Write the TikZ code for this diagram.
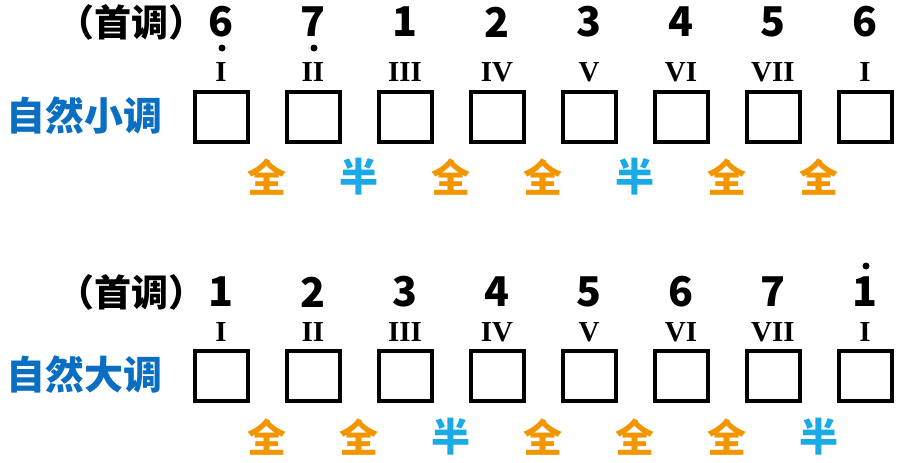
\documentclass[tikz,border=0pt]{standalone}
\usepackage{fontspec}
\newfontfamily\cjk{Noto Sans CJK SC}
\newfontfamily\rom{Liberation Serif}
\definecolor{titleblue}{HTML}{0A6FC2}
\definecolor{wholeor}{HTML}{F29600}
\definecolor{halfbl}{HTML}{1AAAE8}
\tikzset{
  keybox/.style={draw=black, line width=4pt, minimum width=53pt, minimum height=50pt, inner sep=0pt},
  degnum/.style={font=\cjk\bfseries\fontsize{41}{41}\selectfont, inner sep=0pt},
  romnum/.style={font=\rom\bfseries\fontsize{29}{29}\selectfont, inner sep=0pt},
  wlabel/.style={font=\cjk\bfseries\fontsize{39}{39}\selectfont, text=wholeor, inner sep=0pt},
  hlabel/.style={font=\cjk\bfseries\fontsize{39}{39}\selectfont, text=halfbl, inner sep=0pt},
  keyname/.style={font=\cjk\bfseries\fontsize{39}{39}\selectfont, text=titleblue, inner sep=0pt, anchor=west},
  tonic/.style={font=\cjk\bfseries\fontsize{37}{37}\selectfont, inner sep=0pt, anchor=east},
  dotmark/.style={fill=black, circle, inner sep=0pt, minimum size=7pt}
}
\begin{document}
\begin{tikzpicture}[x=1pt,y=-1pt]
\useasboundingbox[fill=white] (0,0) rectangle (898,463);
% ---------- minor ----------
\node[tonic] (tA) at (206,22) {（首调）};
\node[keyname] (kA) at (6,116) {自然小调};
\foreach \i/\d/\r in {1/6/I,2/7/II,3/1/III,4/2/IV,5/3/V,6/4/VI,7/5/VII,8/6/I}{
  \pgfmathsetmacro{\xx}{221+92*(\i-1)}
  \node[keybox] (mb\i) at (\xx,117) {};
  \node[romnum] (mr\i) at (\xx,72) {\r};
  \node[degnum] (mn\i) at (\xx,22) {\d};
}
\node[dotmark] (md1) at (222,48) {};
\node[dotmark] (md2) at (314,48) {};
\foreach \i/\s/\c in {1/wlabel/全,2/hlabel/半,3/wlabel/全,4/wlabel/全,5/hlabel/半,6/wlabel/全,7/wlabel/全}{
  \pgfmathsetmacro{\xx}{267+92*(\i-1)}
  \node[\s] (ml\i) at (\xx,177) {\c};
}
% ---------- major ----------
\node[tonic] (tB) at (206,292) {（首调）};
\node[keyname] (kB) at (6,375) {自然大调};
\foreach \i/\d/\r in {1/1/I,2/2/II,3/3/III,4/4/IV,5/5/V,6/6/VI,7/7/VII,8/1/I}{
  \pgfmathsetmacro{\xx}{221+92*(\i-1)}
  \node[keybox] (Mb\i) at (\xx,376) {};
  \node[romnum] (Mr\i) at (\xx,332) {\r};
  \node[degnum] (Mn\i) at (\xx,292) {\d};
}
\node[dotmark] (Md8) at (866,266) {};
\foreach \i/\s/\c in {1/wlabel/全,2/wlabel/全,3/hlabel/半,4/wlabel/全,5/wlabel/全,6/wlabel/全,7/hlabel/半}{
  \pgfmathsetmacro{\xx}{267+92*(\i-1)}
  \node[\s] (Ml\i) at (\xx,437) {\c};
}
\end{tikzpicture}
\end{document}
